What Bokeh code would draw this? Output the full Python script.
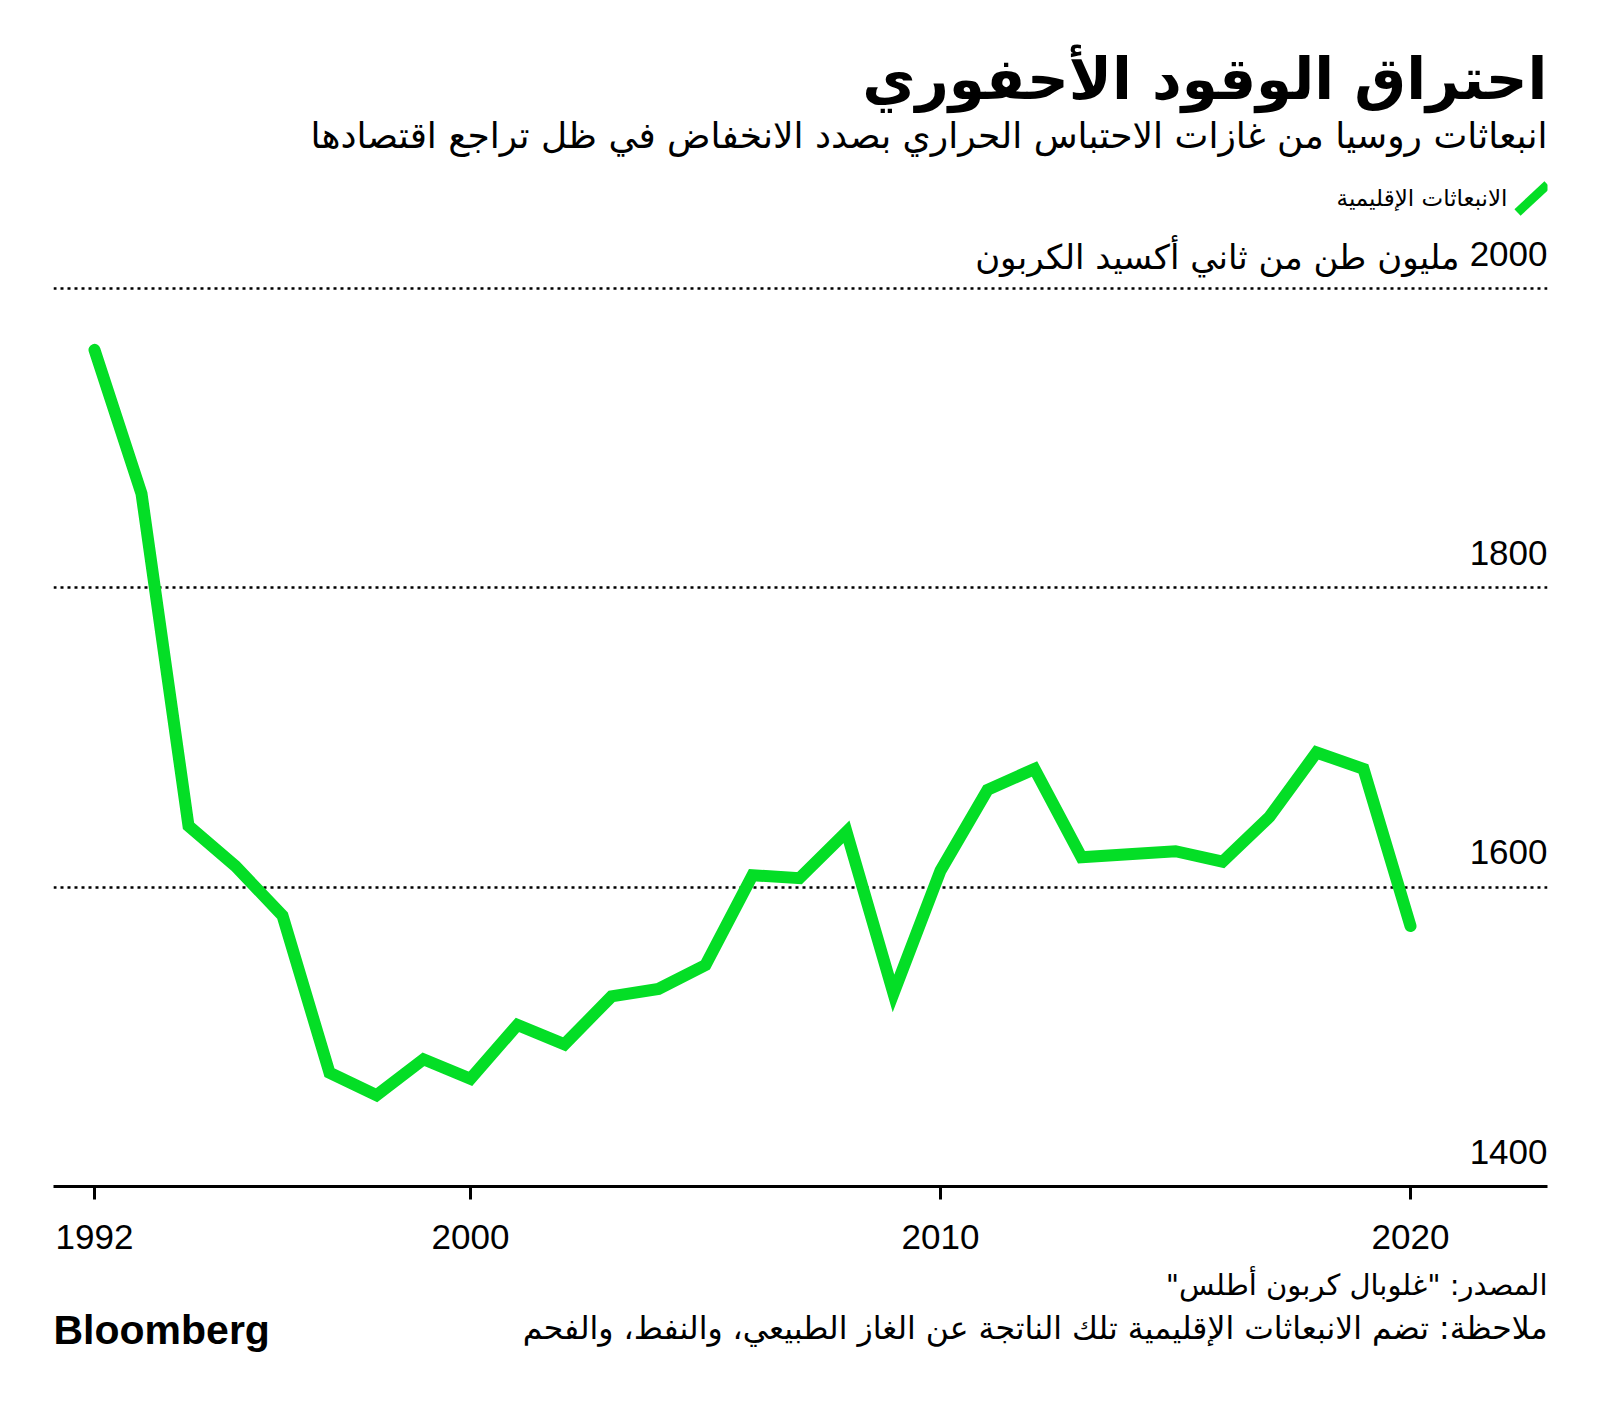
from bokeh.plotting import figure
from bokeh.layouts import column
from bokeh.models import Range1d, FixedTicker, Label, Grid, ColumnDataSource
from bokeh.embed import file_html
from bokeh.resources import INLINE
from bokeh.core.properties import value

# ---- data ----
years = list(range(1992, 2021))
emissions = [1959, 1863, 1641, 1614, 1581, 1476, 1461, 1485, 1472, 1508,
             1495, 1527, 1532, 1548, 1608, 1606, 1637, 1529, 1611, 1665,
             1679, 1620, 1622, 1624, 1617, 1647, 1690, 1679, 1574]
x_ticks = [1992, 2000, 2010, 2020]
y_ticks = [1400, 1600, 1800, 2000]
y_tick_labels = ["1400", "1600", "1800", "2000"]

title_text = "احتراق الوقود الأحفوري"
subtitle_text = "انبعاثات روسيا من غازات الاحتباس الحراري بصدد الانخفاض في ظل تراجع اقتصادها"
legend_text = "الانبعاثات الإقليمية"
unit_text = "مليون طن من ثاني أكسيد الكربون"
source_text = "\u200fالمصدر: \"غلوبال كربون أطلس\"\u200f"
note_text = "\u200fملاحظة: تضم الانبعاثات الإقليمية تلك الناتجة عن الغاز الطبيعي، والنفط، والفحم\u200f"
brand_text = "Bloomberg"

# ---- layout (page pixels) ----
W = 1592
HM = 1264          # main figure height
HF = 136           # footer figure height
FL, FR, FB = 53, 1547, 1186
PX_YEAR = (1410 - 94) / 28.0
X_START = 1992 - (94 - FL) / PX_YEAR
X_END = X_START + (FR - FL) / PX_YEAR
PX_UNIT = (1186 - 288) / 600.0
Y_START = 1400
Y_END = 1400 + FB / PX_UNIT

GREEN = "#04DE26"
AR_FONT = "DejaVu Sans"

def px_x(cx):
    return X_START + (cx - FL) / PX_YEAR

def px_y(cy):
    return Y_START + (FB - cy) / PX_UNIT

p = figure(width=W, height=HM, output_backend="svg", toolbar_location=None,
           x_range=Range1d(X_START, X_END), y_range=Range1d(Y_START, Y_END),
           y_axis_location=None, min_border_left=FL, min_border_right=W - FR,
           min_border_top=0, min_border_bottom=HM - FB)
p.grid.visible = False
p.outline_line_color = None
p.background_fill_color = "white"
p.border_fill_color = "white"

grid = Grid(dimension=1, ticker=FixedTicker(ticks=y_ticks[1:]),
            grid_line_color="black", grid_line_width=2.5, grid_line_dash="3 4")
p.add_layout(grid)

ax = p.xaxis[0]
ax.ticker = FixedTicker(ticks=x_ticks)
ax.axis_line_width = 3
ax.axis_line_color = "black"
ax.major_tick_line_width = 3
ax.major_tick_line_color = "black"
ax.major_tick_out = 13
ax.major_tick_in = 0
ax.minor_tick_line_color = None
ax.major_label_text_font = "Liberation Sans"
ax.major_label_text_font_size = "35px"
ax.major_label_text_color = "black"
ax.major_label_standoff = 25

p.line(years, emissions, line_width=12, line_color=GREEN,
       line_join="miter", line_cap="round")

tick_src = ColumnDataSource(dict(x=[X_END] * len(y_ticks), y=y_ticks, t=y_tick_labels))
p.text(x="x", y="y", text="t", source=tick_src, text_align="right",
       text_baseline="alphabetic", y_offset=-35,
       text_font=value("Liberation Sans"), text_font_size="35px", text_color="black")

# legend marker
p.segment(x0=px_x(1517), y0=px_y(212), x1=px_x(1547), y1=px_y(184),
          line_color=GREEN, line_width=9)

def add_label(text, cy, size, bold=False, x_offset=0):
    lab = Label(x=X_END, y=px_y(cy), x_offset=x_offset, text=text,
                text_align="right", text_baseline="alphabetic",
                text_font=AR_FONT, text_font_size=size,
                text_font_style="bold" if bold else "normal",
                text_color="black")
    p.add_layout(lab)

add_label(title_text, 78, "58px", bold=True)
add_label(subtitle_text, 135, "36px")
add_label(legend_text, 197, "23px", x_offset=-40)
p.add_layout(Label(x=X_END, y=2000, y_offset=32, x_offset=-88, text=unit_text,
                   text_align="right", text_baseline="alphabetic",
                   text_font=AR_FONT, text_font_size="34px", text_color="black"))

# ---- footer ----
f = figure(width=W, height=HF, output_backend="svg", toolbar_location=None,
           x_range=p.x_range, y_range=Range1d(HF, 0),
           x_axis_location=None, y_axis_location=None,
           min_border_left=FL, min_border_right=W - FR,
           min_border_top=0, min_border_bottom=0)
f.grid.visible = False
f.outline_line_color = None
f.background_fill_color = "white"
f.border_fill_color = "white"

f.text(x=[X_END], y=[1284 - HM], text=[source_text], text_align="right",
       text_baseline="alphabetic", text_font=value(AR_FONT),
       text_font_size="29px", text_color="black")
f.text(x=[X_END], y=[1327 - HM], text=[note_text], text_align="right",
       text_baseline="alphabetic", text_font=value(AR_FONT),
       text_font_size="31.5px", text_color="black")
f.text(x=[X_START], y=[1329 - HM], text=[brand_text], text_align="left",
       text_baseline="alphabetic", text_font=value("Liberation Sans"),
       text_font_style="bold", text_font_size="41px", text_color="black")

layout = column(p, f, spacing=0)
open("out.html", "w").write(file_html(layout, INLINE))
